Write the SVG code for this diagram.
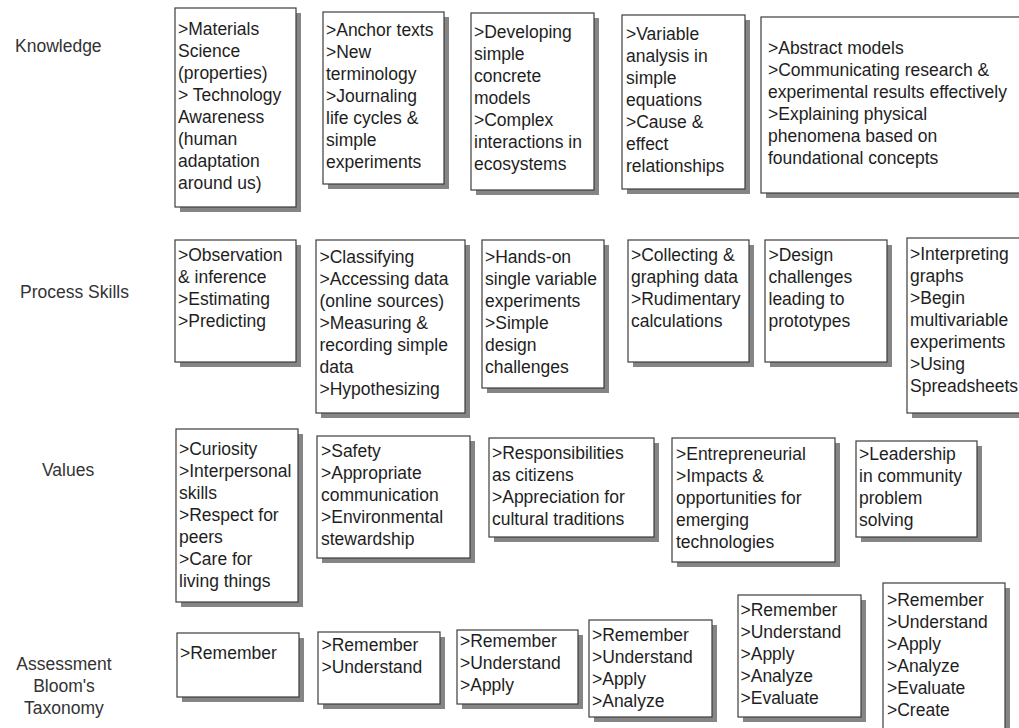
<svg xmlns="http://www.w3.org/2000/svg" width="1019" height="728" viewBox="0 0 1019 728">
<style>
text{font-family:"Liberation Sans",Arial,sans-serif;font-size:17.5px;fill:#1e1e1e}
.lbl{fill:#333}
.sh{fill:#858585}
.bx{fill:#fff;stroke:#3c3c3c;stroke-width:1.2}
</style>
<rect width="1019" height="728" fill="#fff"/>
<g id="labels">
<text class="lbl" x="15" y="51.5">Knowledge</text>
<text class="lbl" x="20" y="298">Process Skills</text>
<text class="lbl" x="42" y="476">Values</text>
<text class="lbl" text-anchor="middle"><tspan x="64" y="669.5">Assessment</tspan><tspan x="64" y="691.5">Bloom's</tspan><tspan x="64" y="713.5">Taxonomy</tspan></text>
</g>
<g id="connectors"></g>
<g id="K1"><rect class="sh" x="180" y="13" width="121" height="199"/><rect class="bx" x="175" y="8" width="121" height="199"/>
<text x="178" y="34.5"><tspan x="178">&gt;Materials</tspan><tspan x="178" dy="22">Science</tspan><tspan x="178" dy="22">(properties)</tspan><tspan x="178" dy="22">&gt; Technology</tspan><tspan x="178" dy="22">Awareness</tspan><tspan x="178" dy="22">(human</tspan><tspan x="178" dy="22">adaptation</tspan><tspan x="178" dy="22">around us)</tspan></text></g>
<g id="K2"><rect class="sh" x="328" y="17" width="121" height="172"/><rect class="bx" x="323" y="12" width="121" height="172"/>
<text x="326" y="35.5"><tspan x="326">&gt;Anchor texts</tspan><tspan x="326" dy="22">&gt;New</tspan><tspan x="326" dy="22">terminology</tspan><tspan x="326" dy="22">&gt;Journaling</tspan><tspan x="326" dy="22">life cycles &amp;</tspan><tspan x="326" dy="22">simple</tspan><tspan x="326" dy="22">experiments</tspan></text></g>
<g id="K3"><rect class="sh" x="476" y="18" width="123" height="177"/><rect class="bx" x="471" y="13" width="123" height="177"/>
<text x="474" y="37.5"><tspan x="474">&gt;Developing</tspan><tspan x="474" dy="22">simple</tspan><tspan x="474" dy="22">concrete</tspan><tspan x="474" dy="22">models</tspan><tspan x="474" dy="22">&gt;Complex</tspan><tspan x="474" dy="22">interactions in</tspan><tspan x="474" dy="22">ecosystems</tspan></text></g>
<g id="K4"><rect class="sh" x="627" y="20" width="123" height="174"/><rect class="bx" x="622" y="15" width="123" height="174"/>
<text x="626" y="40"><tspan x="626">&gt;Variable</tspan><tspan x="626" dy="22">analysis in</tspan><tspan x="626" dy="22">simple</tspan><tspan x="626" dy="22">equations</tspan><tspan x="626" dy="22">&gt;Cause &amp;</tspan><tspan x="626" dy="22">effect</tspan><tspan x="626" dy="22">relationships</tspan></text></g>
<g id="K5"><rect class="sh" x="766" y="22" width="262" height="176"/><rect class="bx" x="761" y="17" width="262" height="176"/>
<text x="768" y="53.5"><tspan x="768">&gt;Abstract models</tspan><tspan x="768" dy="22">&gt;Communicating research &amp;</tspan><tspan x="768" dy="22">experimental results effectively</tspan><tspan x="768" dy="22">&gt;Explaining physical</tspan><tspan x="768" dy="22">phenomena based on</tspan><tspan x="768" dy="22">foundational concepts</tspan></text></g>
<g id="P1"><rect class="sh" x="180" y="245" width="121" height="122"/><rect class="bx" x="175" y="240" width="121" height="122"/>
<text x="178" y="261"><tspan x="178">&gt;Observation</tspan><tspan x="178" dy="22">&amp; inference</tspan><tspan x="178" dy="22">&gt;Estimating</tspan><tspan x="178" dy="22">&gt;Predicting</tspan></text></g>
<g id="P2"><rect class="sh" x="321" y="245" width="149" height="173"/><rect class="bx" x="316" y="240" width="149" height="173"/>
<text x="319.5" y="263"><tspan x="319.5">&gt;Classifying</tspan><tspan x="319.5" dy="22">&gt;Accessing data</tspan><tspan x="319.5" dy="22">(online sources)</tspan><tspan x="319.5" dy="22">&gt;Measuring &amp;</tspan><tspan x="319.5" dy="22">recording simple</tspan><tspan x="319.5" dy="22">data</tspan><tspan x="319.5" dy="22">&gt;Hypothesizing</tspan></text></g>
<g id="P3"><rect class="sh" x="487" y="245" width="122" height="148"/><rect class="bx" x="482" y="240" width="122" height="148"/>
<text x="485" y="263"><tspan x="485">&gt;Hands-on</tspan><tspan x="485" dy="22">single variable</tspan><tspan x="485" dy="22">experiments</tspan><tspan x="485" dy="22">&gt;Simple</tspan><tspan x="485" dy="22">design</tspan><tspan x="485" dy="22">challenges</tspan></text></g>
<g id="P4"><rect class="sh" x="633" y="245" width="121" height="122"/><rect class="bx" x="628" y="240" width="121" height="122"/>
<text x="631" y="261"><tspan x="631">&gt;Collecting &amp;</tspan><tspan x="631" dy="22">graphing data</tspan><tspan x="631" dy="22">&gt;Rudimentary</tspan><tspan x="631" dy="22">calculations</tspan></text></g>
<g id="P5"><rect class="sh" x="770" y="245" width="122" height="122"/><rect class="bx" x="765" y="240" width="122" height="122"/>
<text x="768.5" y="261"><tspan x="768.5">&gt;Design</tspan><tspan x="768.5" dy="22">challenges</tspan><tspan x="768.5" dy="22">leading to</tspan><tspan x="768.5" dy="22">prototypes</tspan></text></g>
<g id="P6"><rect class="sh" x="912" y="243" width="116" height="175"/><rect class="bx" x="907" y="238" width="116" height="175"/>
<text x="910" y="260"><tspan x="910">&gt;Interpreting</tspan><tspan x="910" dy="22">graphs</tspan><tspan x="910" dy="22">&gt;Begin</tspan><tspan x="910" dy="22">multivariable</tspan><tspan x="910" dy="22">experiments</tspan><tspan x="910" dy="22">&gt;Using</tspan><tspan x="910" dy="22">Spreadsheets</tspan></text></g>
<g id="V1"><rect class="sh" x="181" y="434" width="122" height="173"/><rect class="bx" x="176" y="429" width="122" height="173"/>
<text x="179" y="455"><tspan x="179">&gt;Curiosity</tspan><tspan x="179" dy="22">&gt;Interpersonal</tspan><tspan x="179" dy="22">skills</tspan><tspan x="179" dy="22">&gt;Respect for</tspan><tspan x="179" dy="22">peers</tspan><tspan x="179" dy="22">&gt;Care for</tspan><tspan x="179" dy="22">living things</tspan></text></g>
<g id="V2"><rect class="sh" x="322" y="441" width="153" height="122"/><rect class="bx" x="317" y="436" width="153" height="122"/>
<text x="321" y="457"><tspan x="321">&gt;Safety</tspan><tspan x="321" dy="22">&gt;Appropriate</tspan><tspan x="321" dy="22">communication</tspan><tspan x="321" dy="22">&gt;Environmental</tspan><tspan x="321" dy="22">stewardship</tspan></text></g>
<g id="V3"><rect class="sh" x="494" y="443" width="165" height="99"/><rect class="bx" x="489" y="438" width="165" height="99"/>
<text x="492" y="459"><tspan x="492">&gt;Responsibilities</tspan><tspan x="492" dy="22">as citizens</tspan><tspan x="492" dy="22">&gt;Appreciation for</tspan><tspan x="492" dy="22">cultural traditions</tspan></text></g>
<g id="V4"><rect class="sh" x="677" y="443" width="163" height="124"/><rect class="bx" x="672" y="438" width="163" height="124"/>
<text x="676" y="459.5"><tspan x="676">&gt;Entrepreneurial</tspan><tspan x="676" dy="22">&gt;Impacts &amp;</tspan><tspan x="676" dy="22">opportunities for</tspan><tspan x="676" dy="22">emerging</tspan><tspan x="676" dy="22">technologies</tspan></text></g>
<g id="V5"><rect class="sh" x="861" y="446" width="121" height="96"/><rect class="bx" x="856" y="441" width="121" height="96"/>
<text x="859" y="460"><tspan x="859">&gt;Leadership</tspan><tspan x="859" dy="22">in community</tspan><tspan x="859" dy="22">problem</tspan><tspan x="859" dy="22">solving</tspan></text></g>
<g id="A1"><rect class="sh" x="182" y="638" width="122" height="64"/><rect class="bx" x="177" y="633" width="122" height="64"/>
<text x="180" y="659">&gt;Remember</text></g>
<g id="A2"><rect class="sh" x="323" y="637" width="122" height="72"/><rect class="bx" x="318" y="632" width="122" height="72"/>
<text x="321.5" y="651"><tspan x="321.5">&gt;Remember</tspan><tspan x="321.5" dy="22">&gt;Understand</tspan></text></g>
<g id="A3"><rect class="sh" x="462" y="635" width="121" height="74"/><rect class="bx" x="457" y="630" width="121" height="74"/>
<text x="460" y="647"><tspan x="460">&gt;Remember</tspan><tspan x="460" dy="22">&gt;Understand</tspan><tspan x="460" dy="22">&gt;Apply</tspan></text></g>
<g id="A4"><rect class="sh" x="594" y="625" width="123" height="97"/><rect class="bx" x="589" y="620" width="123" height="97"/>
<text x="592" y="641"><tspan x="592">&gt;Remember</tspan><tspan x="592" dy="22">&gt;Understand</tspan><tspan x="592" dy="22">&gt;Apply</tspan><tspan x="592" dy="22">&gt;Analyze</tspan></text></g>
<g id="A5"><rect class="sh" x="743" y="600" width="123" height="122"/><rect class="bx" x="738" y="595" width="123" height="122"/>
<text x="740.5" y="616"><tspan x="740.5">&gt;Remember</tspan><tspan x="740.5" dy="22">&gt;Understand</tspan><tspan x="740.5" dy="22">&gt;Apply</tspan><tspan x="740.5" dy="22">&gt;Analyze</tspan><tspan x="740.5" dy="22">&gt;Evaluate</tspan></text></g>
<g id="A6"><rect class="sh" x="888" y="588" width="122" height="150"/><rect class="bx" x="883" y="583" width="122" height="150"/>
<text x="887" y="606"><tspan x="887">&gt;Remember</tspan><tspan x="887" dy="22">&gt;Understand</tspan><tspan x="887" dy="22">&gt;Apply</tspan><tspan x="887" dy="22">&gt;Analyze</tspan><tspan x="887" dy="22">&gt;Evaluate</tspan><tspan x="887" dy="22">&gt;Create</tspan></text></g>
</svg>
